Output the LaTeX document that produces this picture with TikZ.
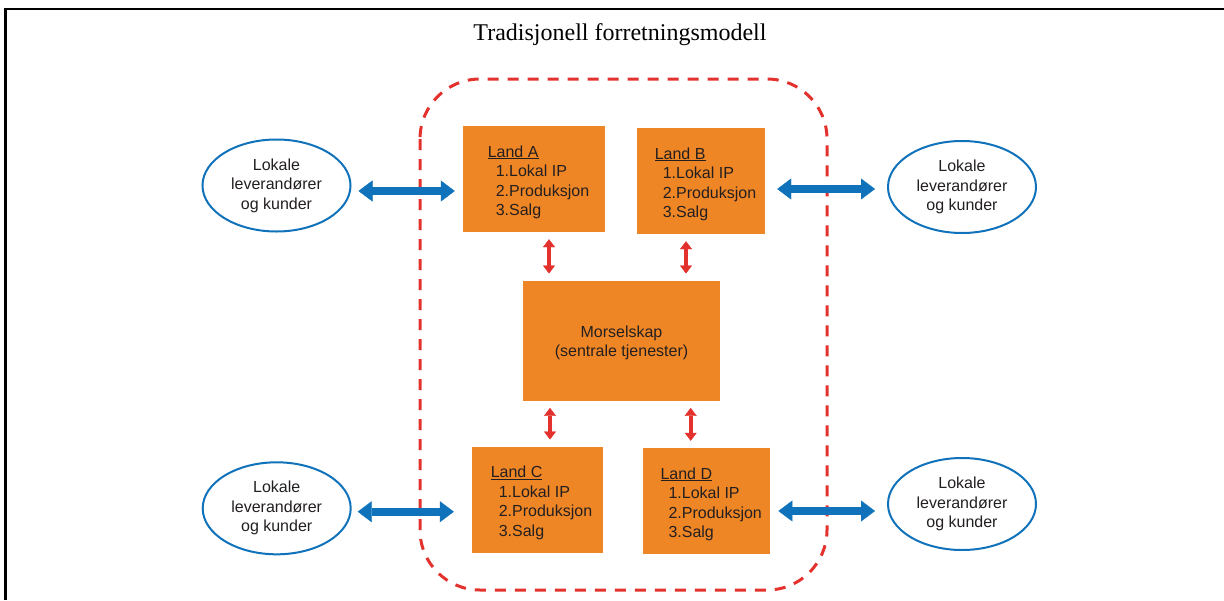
\documentclass[tikz,border=0pt]{standalone}
\usepackage{fontspec}
\setmainfont{Liberation Serif}
\setsansfont{Liberation Sans}
\usetikzlibrary{arrows.meta,shapes.geometric}
\definecolor{oransje}{RGB}{239,134,38}
\definecolor{blaa}{RGB}{16,114,186}
\definecolor{roed}{RGB}{227,50,45}
\definecolor{tekstgraa}{RGB}{35,31,32}
\newcommand{\boksfont}{\sffamily\fontsize{16}{19.5}\selectfont}
\newcommand{\landtekst}[1]{\rule{0pt}{18pt}\hspace*{9pt}\underline{Land #1}\\
  \hspace*{17pt}1.Lokal IP\\ \hspace*{17pt}2.Produksjon\\ \hspace*{17pt}3.Salg}
\tikzset{
  boks/.style     = {fill=oransje, inner sep=0pt, align=left, text=tekstgraa,
                     font=\boksfont},
  landboks/.style = {boks, minimum height=106pt},
  morboks/.style  = {boks, align=center, minimum width=197pt, minimum height=120pt},
  aktoer/.style   = {ellipse, draw=blaa, line width=2pt, fill=white, inner sep=0pt,
                     minimum width=148pt, minimum height=92pt, align=center,
                     text=tekstgraa, font=\boksfont},
  blaapil/.style  = {<->, >={Triangle[length=14pt,width=21pt,line width=0.4pt]},
                     line width=8pt, blaa},
  roedpil/.style  = {<->, >={Triangle[length=8pt,width=12pt,line width=0.4pt]},
                     line width=4pt, roed, shorten <=7pt, shorten >=7pt},
  ramme/.style    = {roed, line width=3pt, dash pattern=on 11pt off 9pt,
                     rounded corners=60pt},
  tittel/.style   = {font=\fontsize{24}{28}\selectfont, inner sep=0pt, anchor=base}
}
\begin{document}
\begin{tikzpicture}[x=1pt, y=-1pt]
        \useasboundingbox (0,0) rectangle (1224,600);
        \draw[line width=2.5pt] (5.3,600) -- (5.3,8.8) -- (1224,8.8);
        \node[tittel] (tittel) at (620,40) {Tradisjonell forretningsmodell};

        \draw[ramme] (420,79) rectangle (827,590);

        \node[landboks, minimum width=142pt] (landA) at (534,179) {\landtekst{A}};
        \node[landboks, minimum width=128pt] (landB) at (701,181) {\landtekst{B}};
        \node[morboks] (morsel) at (621.5,340.7) {\rule{0pt}{16pt}Morselskap\\(sentrale tjenester)};
        \node[landboks, minimum width=131pt] (landC) at (537,499.7) {\landtekst{C}};
        \node[landboks, minimum width=127pt] (landD) at (706.7,501) {\landtekst{D}};

        \node[aktoer] (lokalA) at (276.5,185.5) {Lokale\\leverandører\\og kunder};
        \node[aktoer] (lokalB) at (962,187) {Lokale\\leverandører\\og kunder};
        \node[aktoer] (lokalC) at (276.7,508.3) {Lokale\\leverandører\\og kunder};
        \node[aktoer] (lokalD) at (962,504) {Lokale\\leverandører\\og kunder};

        \draw[roedpil] ([xshift=15pt]landA.south) -- ([xshift=15pt]landA.south |- morsel.north);
        \draw[roedpil] ([xshift=-15pt]landB.south) -- ([xshift=-15pt]landB.south |- morsel.north);
        \draw[roedpil] ([xshift=13pt]landC.north |- morsel.south) -- ([xshift=13pt]landC.north);
        \draw[roedpil] ([xshift=-16pt]landD.north |- morsel.south) -- ([xshift=-16pt]landD.north);

        \draw[blaapil, shorten <=7pt, shorten >=8pt] ([yshift=-5.5pt]lokalA.east) -- ([yshift=-5.5pt]lokalA.east -| landA.west);
        \draw[blaapil, shorten <=12pt, shorten >=12pt] ([yshift=-2pt]lokalB.west -| landB.east) -- ([yshift=-2pt]lokalB.west);
        \draw[blaapil, shorten <=6pt, shorten >=17.5pt] ([yshift=-3.4pt]lokalC.east) -- ([yshift=-3.4pt]lokalC.east -| landC.west);
        \draw[blaapil, shorten <=8pt, shorten >=12pt] ([yshift=-7pt]lokalD.west -| landD.east) -- ([yshift=-7pt]lokalD.west);
    \end{tikzpicture}
\end{document}
